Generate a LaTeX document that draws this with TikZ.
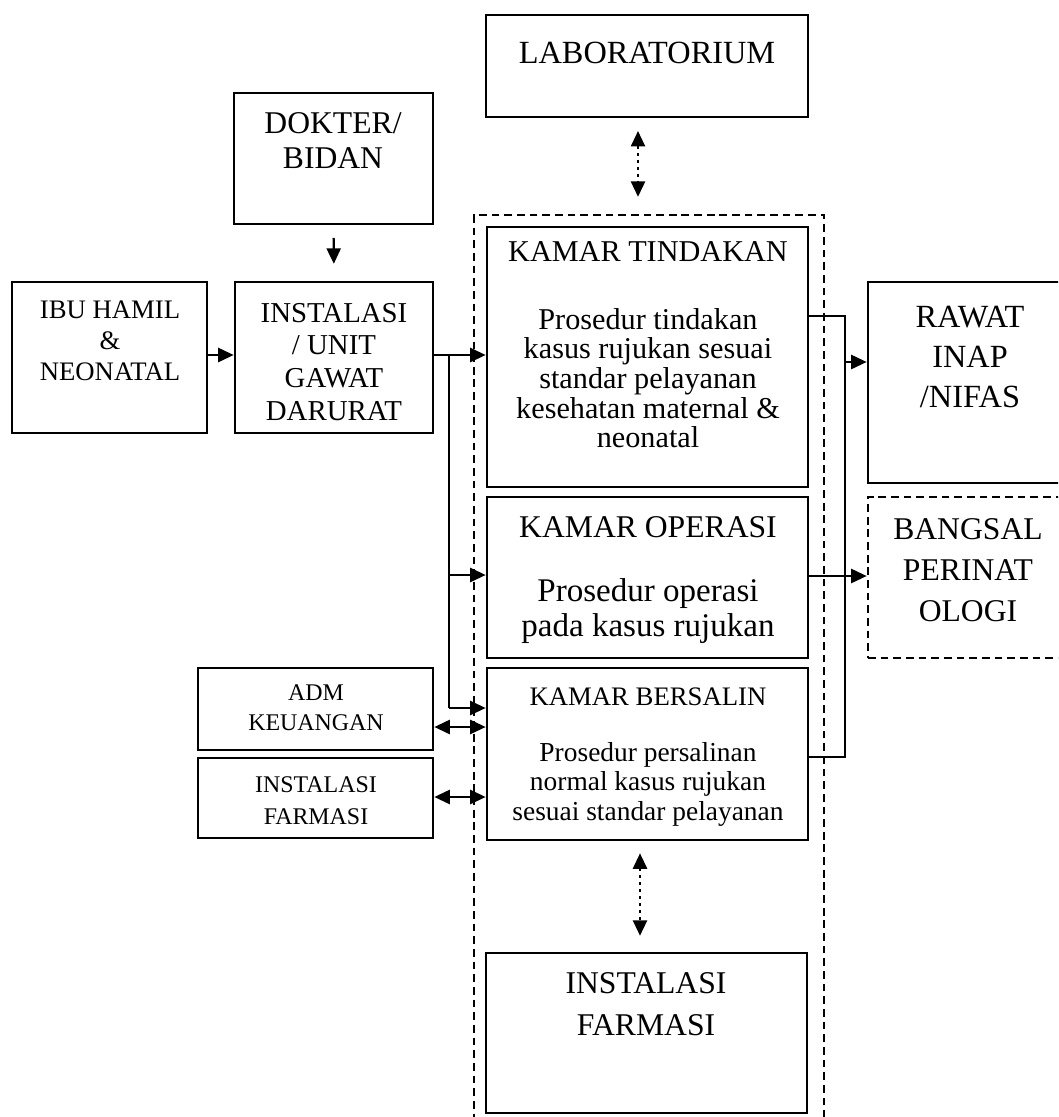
\documentclass[tikz,border=0pt]{standalone}
\usepackage{fontspec}
\setmainfont{Liberation Serif}
\usetikzlibrary{arrows.meta,fit}
\begin{document}
\begin{tikzpicture}[x=0.025cm,y=-0.025cm,
  box/.style={draw, line width=1.9pt, inner sep=0pt},
  dbox/.style={draw, line width=1.9pt, dash pattern=on 5.5pt off 3.5pt, inner sep=0pt},
  txt/.style={align=center, inner sep=0pt},
  line/.style={line width=1.6pt},
  conn/.style={line width=1.6pt, -{Triangle[length=11pt,width=10pt]}},
  biconn/.style={line width=1.6pt, {Triangle[length=11pt,width=10pt]}-{Triangle[length=11pt,width=10pt]}},
  dotconn/.style={line width=1.6pt, dash pattern=on 2pt off 3pt, {Triangle[length=11pt,width=10pt]}-{Triangle[length=11pt,width=10pt]}},
]
\clip (0,0) rectangle (1058,1117);
\fill[white] (0,0) rectangle (1058,1117);

% boxes
\node[box, fit={(486,15) (808,117)}] (lab) {};
\node[box, fit={(234,93) (433,224)}] (dok) {};
\node[box, fit={(12,282) (207,433)}] (ibu) {};
\node[box, fit={(235,282) (433,433)}] (igd) {};
\node[dbox, fit={(474,215) (824,1135)}] (grp) {};
\node[box, fit={(487,227) (808,487)}] (tin) {};
\node[box, fit={(487,497) (808,658)}] (ope) {};
\node[box, fit={(487,668) (808,840)}] (ber) {};
\node[box, fit={(198,668) (433,750)}] (adm) {};
\node[box, fit={(198,758) (433,838)}] (ifs) {};
\node[box, fit={(486,953) (807,1113)}] (ifb) {};
\node[box, fit={(868,282) (1075,483)}] (raw) {};
\node[dbox, fit={(868,497) (1075,658)}] (ban) {};

% texts
\node[txt, font=\fontsize{23}{25}\selectfont] (tlab) at (647,53) {LABORATORIUM};
\node[txt, font=\fontsize{22.5}{24.8}\selectfont] (tdok) at (333,141) {DOKTER/\\BIDAN};
\node[txt, font=\fontsize{19}{22}\selectfont] (tibu) at (110,341) {IBU HAMIL\\\&\\NEONATAL};
\node[txt, font=\fontsize{20.5}{23.4}\selectfont] (tigd) at (334,362) {INSTALASI\\/ UNIT\\GAWAT\\DARURAT};
\node[txt, font=\fontsize{21.5}{24}\selectfont] (ttinh) at (648,252) {KAMAR TINDAKAN};
\node[txt, font=\fontsize{21.5}{21.1}\selectfont] (ttinb) at (648,378) {Prosedur tindakan\\kasus rujukan sesuai\\standar pelayanan\\kesehatan maternal \&\\neonatal};
\node[txt, font=\fontsize{22.5}{25}\selectfont] (topeh) at (648,527) {KAMAR OPERASI};
\node[txt, font=\fontsize{23.5}{25.5}\selectfont] (topeb) at (648,611) {Prosedur operasi\\pada kasus rujukan};
\node[txt, font=\fontsize{19}{22}\selectfont] (tberh) at (648,697) {KAMAR BERSALIN};
\node[txt, font=\fontsize{19.5}{21}\selectfont] (tberb) at (648,784) {Prosedur persalinan\\normal kasus rujukan\\sesuai standar pelayanan};
\node[txt, font=\fontsize{17}{21.3}\selectfont] (tadm) at (316,708) {ADM\\KEUANGAN};
\node[txt, font=\fontsize{17}{22.7}\selectfont] (tifs) at (316,801) {INSTALASI\\FARMASI};
\node[txt, font=\fontsize{23}{28.7}\selectfont] (traw) at (970,357) {RAWAT\\INAP\\/NIFAS};
\node[txt, font=\fontsize{22.5}{29}\selectfont] (tban) at (968,570) {BANGSAL\\PERINAT\\OLOGI};
\node[txt, font=\fontsize{22.5}{29.8}\selectfont] (tifb) at (646,1004) {INSTALASI\\FARMASI};

% helper coordinates
\coordinate (j1) at (449,355);
\coordinate (j3) at (449,575);
\coordinate (j2) at (449,708);
\coordinate (a1) at (0,727);
\coordinate (a2) at (0,797);
\coordinate (r1) at (845,316);
\coordinate (r3) at (845,362);
\coordinate (r2) at (845,757);
\coordinate (b1) at (0,576);
\coordinate (c1) at (638,0);
\coordinate (c2) at (640,0);

% connectors
\draw[conn] (ibu.east |- j1) -- (igd.west |- j1);
\draw[conn, shorten <=9pt, shorten >=12pt] (dok.south) -- (igd.north);
\draw[line] (igd.east |- j1) -- (j1) -- (j2);
\draw[conn] (j1) -- (tin.west |- j1);
\draw[conn] (j3) -- (ope.west |- j3);
\draw[conn] (j2) -- (ber.west |- j2);
\draw[biconn] (adm.east |- a1) -- (ber.west |- a1);
\draw[biconn] (ifs.east |- a2) -- (ber.west |- a2);
\draw[dotconn, shorten <=9pt, shorten >=20.5pt] (lab.south -| c1) -- (tin.north -| c1);
\draw[dotconn, shorten <=8.5pt, shorten >=11.3pt] (ber.south -| c2) -- (ifb.north -| c2);
\draw[line] (tin.east |- r1) -- (r1) -- (r2) -- (ber.east |- r2);
\draw[conn] (r3) -- (raw.west |- r3);
\draw[conn] (ope.east |- b1) -- (ban.west |- b1);
\end{tikzpicture}
\end{document}
